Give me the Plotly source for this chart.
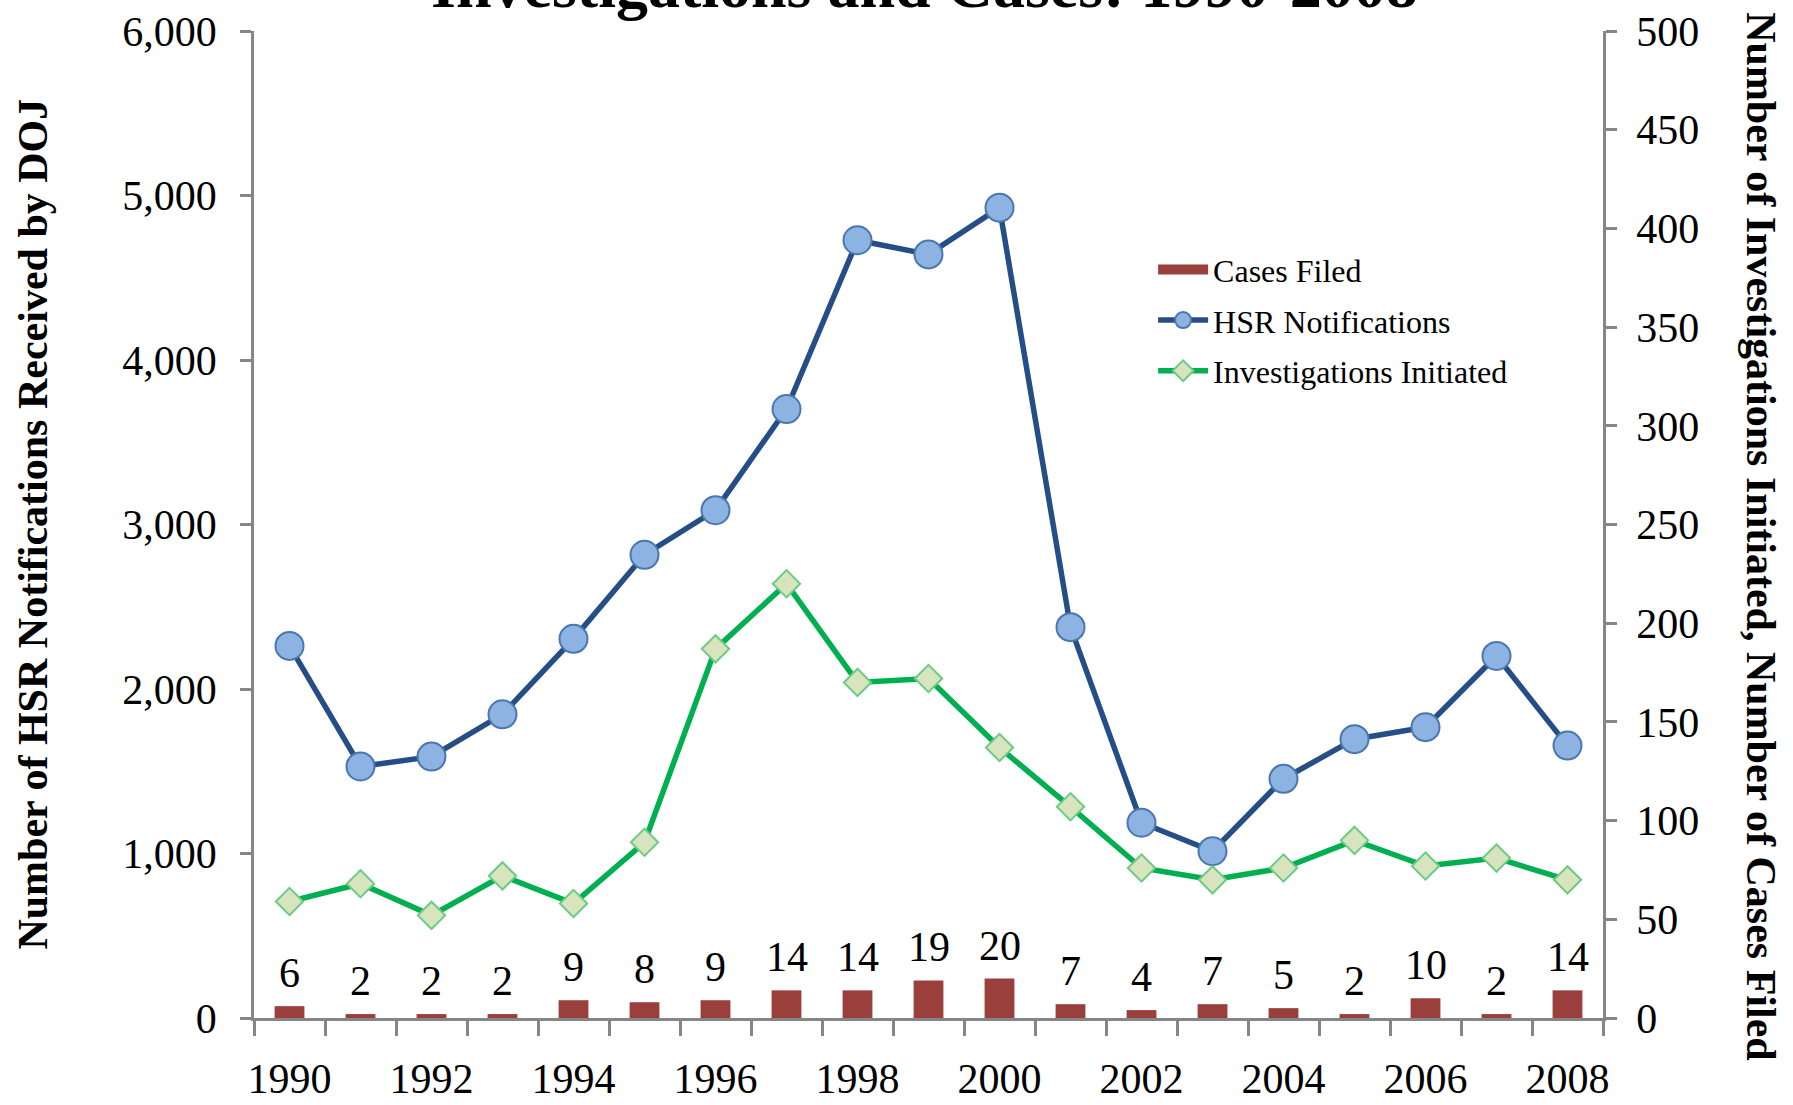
import plotly.graph_objects as go

years = [str(y) for y in range(1990, 2009)]
hsr_notifications = [2262, 1529, 1589, 1846, 2305, 2816, 3087, 3702, 4728, 4642,
                     4926, 2376, 1187, 1014, 1454, 1695, 1768, 2201, 1656]
investigations = [59, 68, 52, 72, 58, 89, 187, 220, 170, 172,
                  137, 107, 76, 70, 76, 90, 77, 81, 70]
cases_filed = [6, 2, 2, 2, 9, 8, 9, 14, 14, 19, 20, 7, 4, 7, 5, 2, 10, 2, 14]
tick_labels = [y if int(y) % 2 == 0 else "" for y in years]

title_text = "Investigations and Cases: 1990-2008"
left_title = "Number of HSR Notifications Received by DOJ"
right_title = "Number of Investigations Initiated, Number of Cases Filed"

FONT = "Liberation Serif, Times New Roman, serif"
AXIS_GRAY = "#868686"
BAR_COLOR = "#9B3F3C"

fig = go.Figure()

fig.add_trace(go.Bar(
    x=years, y=cases_filed, name="Cases Filed", yaxis="y2",
    marker=dict(color=BAR_COLOR, line=dict(width=0)), width=0.42,
    showlegend=False,
))
# legend entry for the bars (wide swatch like the reference)
fig.add_trace(go.Scatter(
    x=[None], y=[None], name="Cases Filed", yaxis="y2", mode="lines",
    line=dict(color=BAR_COLOR, width=17), legendgroup="a",
))
fig.add_trace(go.Scatter(
    x=years, y=hsr_notifications, name="HSR Notifications", yaxis="y",
    mode="lines+markers",
    line=dict(color="#254E87", width=5.5),
    marker=dict(symbol="circle", size=28, color="#8DB3E2",
                line=dict(color="#4A77B0", width=2)),
    legendgroup="b",
))
fig.add_trace(go.Scatter(
    x=years, y=investigations, name="Investigations Initiated", yaxis="y2",
    mode="lines+markers",
    line=dict(color="#00B050", width=5.5),
    marker=dict(symbol="diamond", size=21, color="#D7E4BD",
                line=dict(color="#6CCB85", width=2)),
    legendgroup="c",
))

annotations = []
for i, v in enumerate(cases_filed):
    annotations.append(dict(
        x=i, y=v, xref="x", yref="y2", text=str(v), showarrow=False,
        yanchor="bottom", xanchor="center", yshift=8,
        font=dict(family=FONT, size=42, color="black"),
    ))

annotations.append(dict(
    x=0.4974, y=1.008, xref="paper", yref="paper", text="<b>" + title_text + "</b>",
    showarrow=False, xanchor="center", yanchor="bottom",
    font=dict(family=FONT, size=64, color="black"),
))
annotations.append(dict(
    x=-0.1645, y=0.5, xref="paper", yref="paper", text="<b>" + left_title + "</b>",
    showarrow=False, textangle=-90, xanchor="center", yanchor="middle",
    font=dict(family=FONT, size=42, color="black"),
))
annotations.append(dict(
    x=1.1165, y=0.488, xref="paper", yref="paper", text="<b>" + right_title + "</b>",
    showarrow=False, textangle=90, xanchor="center", yanchor="middle",
    font=dict(family=FONT, size=42, color="black"),
))

fig.update_layout(
    width=1793, height=1105,
    margin=dict(l=254, r=190, t=31, b=87, autoexpand=False),
    paper_bgcolor="white", plot_bgcolor="white",
    font=dict(family=FONT, color="black"),
    showlegend=True,
    legend=dict(
        x=0.6665, y=0.786, xanchor="left", yanchor="top",
        font=dict(family=FONT, size=32, color="black"),
        bgcolor="rgba(0,0,0,0)", traceorder="grouped", tracegroupgap=6,
        itemwidth=50,
    ),
    xaxis=dict(
        type="category", range=[-0.5, 18.5], tickmode="array", tickvals=years,
        ticktext=tick_labels, tickangle=0, automargin=False,
        tickson="boundaries", ticks="outside", ticklen=15, tickwidth=2.5,
        tickcolor=AXIS_GRAY, showline=True, linecolor=AXIS_GRAY, linewidth=2.5,
        showgrid=False, zeroline=False, ticklabelstandoff=22,
        tickfont=dict(family=FONT, size=42, color="black"),
    ),
    yaxis=dict(
        range=[0, 6000], dtick=1000, tickformat=",d", ticks="outside", ticklen=11,
        tickwidth=2.5, tickcolor=AXIS_GRAY, showline=True, linecolor=AXIS_GRAY,
        linewidth=2.5, showgrid=False, zeroline=False, ticklabelstandoff=15,
        automargin=False,
        tickfont=dict(family=FONT, size=42, color="black"),
    ),
    yaxis2=dict(
        range=[0, 500], dtick=50, overlaying="y", side="right", ticks="outside",
        ticklen=11, tickwidth=2.5, tickcolor=AXIS_GRAY, showline=True,
        linecolor=AXIS_GRAY, linewidth=2.5, showgrid=False, zeroline=False,
        ticklabelstandoff=11, automargin=False,
        tickfont=dict(family=FONT, size=42, color="black"),
    ),
    annotations=annotations,
)

fig.write_html(
    "out.html",
    config={"displayModeBar": False},
    post_script="document.body.style.margin='0';document.body.style.overflow='hidden';",
)
